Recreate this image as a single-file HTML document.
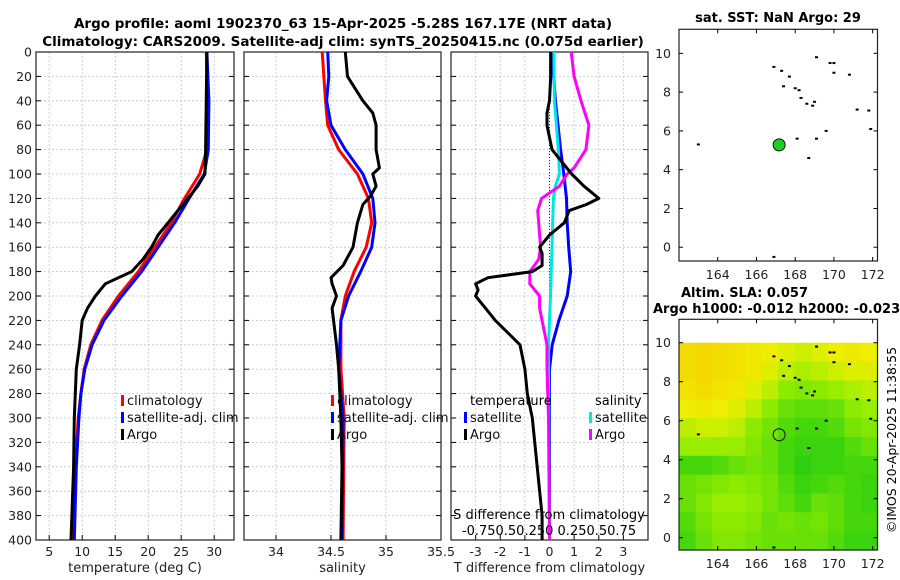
<!DOCTYPE html>
<html><head><meta charset="utf-8">
<style>
body{margin:0;background:#fff;}
svg{display:block;font-family:"DejaVu Sans","Liberation Sans",sans-serif;}
</style></head>
<body>
<svg id="chart" width="900" height="580" viewBox="0 0 900 580" xmlns="http://www.w3.org/2000/svg">
<text x="343" y="28" text-anchor="middle" font-weight="bold" font-size="13.5">Argo profile: aoml 1902370_63 15-Apr-2025 -5.28S 167.17E (NRT data)</text>
<text x="343" y="46" text-anchor="middle" font-weight="bold" font-size="13.5">Climatology: CARS2009. Satellite-adj clim: synTS_20250415.nc (0.075d earlier)</text>
<g id="g"></g>
<text x="778" y="22" text-anchor="middle" font-weight="bold" font-size="13">sat. SST: NaN Argo: 29</text>
<text x="681" y="297" font-weight="bold" font-size="13">Altim. SLA: 0.057</text>
<text x="653" y="313" font-weight="bold" font-size="13">Argo h1000: -0.012 h2000: -0.023</text>
<text transform="translate(896,440) rotate(-90)" text-anchor="middle" font-size="12.5">©IMOS 20-Apr-2025 11:38:55</text>
</svg>
<script>
const depthTicks=[0,20,40,60,80,100,120,140,160,180,200,220,240,260,280,300,320,340,360,380,400];
const tempTicks=[5,10,15,20,25,30];
const salTicks=[34,34.5,35,35.5];
const tdiffTicks=[-3,-2,-1,0,1,2,3];
const tempClim=[[0,28.8],[40,29],[80,28.9],[100,27.8],[120,25.5],[140,23.5],[160,21],[180,18.5],[200,15.5],[220,13],[240,11.3],[260,10.3],[280,9.8],[300,9.4],[340,9],[400,8.7]];
const tempSat=[[0,28.9],[40,29.2],[80,29.1],[100,28.5],[120,26.2],[140,24],[160,21.5],[180,19],[200,16],[220,13.3],[240,11.5],[260,10.4],[280,9.8],[300,9.5],[340,9.1],[400,8.8]];
const tempArgo=[[0,28.9],[80,28.7],[100,28.6],[110,27.5],[120,26],[130,24.5],[140,23],[150,21.5],[160,20.5],[170,19.2],[180,17.5],[185,15.5],[190,13.5],[200,12],[210,10.8],[220,10],[240,9.6],[260,9.1],[300,8.8],[340,8.7],[400,8.3]];
const salClim=[[0,34.42],[40,34.45],[60,34.47],[80,34.57],[100,34.74],[120,34.84],[140,34.87],[160,34.82],[180,34.71],[200,34.63],[220,34.59],[260,34.59],[300,34.62],[400,34.61]];
const salSat=[[0,34.47],[20,34.48],[40,34.46],[60,34.5],[80,34.63],[100,34.79],[120,34.88],[140,34.9],[160,34.87],[180,34.77],[200,34.66],[220,34.59],[260,34.57],[300,34.61],[400,34.6]];
const salArgo=[[0,34.63],[20,34.65],[40,34.79],[50,34.88],[60,34.91],[80,34.91],[95,34.94],[100,34.88],[110,34.91],[118,34.86],[125,34.79],[140,34.74],[160,34.7],[175,34.61],[185,34.5],[190,34.51],[200,34.55],[210,34.51],[240,34.55],[260,34.57],[300,34.59],[340,34.6],[400,34.59]];
const tdiffSat=[[0,0.1],[40,0.24],[80,0.45],[100,0.58],[120,0.69],[140,0.72],[160,0.78],[180,0.86],[200,0.72],[220,0.38],[240,0.11],[260,0],[400,0]];
const tdiffArgo=[[0,0.05],[20,0.05],[40,0],[50,-0.1],[60,-0.1],[80,0.1],[90,0.5],[100,0.9],[110,1.4],[120,2.0],[125,1.5],[130,0.8],[140,0.6],[150,0],[160,-0.4],[165,-0.3],[175,-0.3],[180,-0.7],[185,-2.5],[190,-3.0],[195,-2.9],[200,-3.0],[210,-2.6],[220,-2.2],[240,-1.2],[260,-1.0],[280,-0.9],[300,-0.7],[340,-0.5],[380,-0.3],[400,-0.3]];
const sdiffSat=[[0,0.045],[40,0.05],[80,0.09],[100,0.1],[110,0.06],[120,0.04],[160,0.025],[200,0.01],[240,-0.01],[400,0]];
const sdiffArgo=[[0,0.22],[20,0.25],[40,0.32],[60,0.4],[80,0.37],[95,0.25],[100,0.18],[110,0.1],[120,-0.08],[130,-0.12],[140,-0.11],[160,-0.09],[170,-0.11],[180,-0.2],[190,-0.2],[200,-0.1],[210,-0.1],[240,-0.025],[260,-0.025],[300,-0.01],[400,0]];
const lonTicks=[164,166,168,170,172];
const latTicks=[0,2,4,6,8,10];
const coastLon=[163,166.9,167.3,167.7,167.4,168,168.2,168.3,168.6,168.9,169,169.1,169.8,170,170,170.8,171.2,171.8,171.9,169.6,169.1,168.1,168.7,166.9];
const coastLat=[5.3,9.3,9.1,8.8,8.3,8.2,8.1,7.7,7.4,7.3,7.5,9.8,9.5,9.5,9,8.9,7.1,7.05,6.1,6,5.6,5.6,4.6,-0.5];
const argoLon=167.17, argoLat=5.28;
const slaGrid=[
[.9,.95,.9,.85,.8,.75,.7,.65,.7,.75,.8,.75],
[.9,.95,.9,.85,.8,.7,.6,.55,.6,.65,.7,.7],
[.85,.9,.85,.8,.7,.6,.45,.4,.45,.5,.55,.6],
[.75,.8,.75,.7,.6,.45,.3,.25,.25,.3,.45,.5],
[.6,.65,.65,.6,.45,.35,.2,.15,.15,.2,.35,.4],
[.5,.5,.5,.5,.4,.3,.15,.1,.1,.1,.2,.3],
[.15,.15,.2,.3,.35,.3,.15,.05,.1,.1,.15,.15],
[.3,.35,.4,.45,.4,.35,.2,.1,.15,.2,.15,.1],
[.3,.4,.5,.5,.45,.35,.25,.15,.3,.25,.15,.1],
[.2,.35,.45,.45,.4,.3,.35,.3,.35,.25,.15,.15],
[.15,.3,.4,.4,.35,.3,.3,.3,.3,.2,.1,.1]];

const NS="http://www.w3.org/2000/svg";
const G=document.getElementById('g');
function el(t,a,p){const e=document.createElementNS(NS,t);for(const k in a)e.setAttribute(k,a[k]);(p||G).appendChild(e);return e;}
const Y0=52,Y1=540;
const yD=d=>Y0+(d/400)*(Y1-Y0);
function panel(x0,x1,vmin,vmax,ticks,name,xlabel,showY){
  const sx=v=>x0+(v-vmin)/(vmax-vmin)*(x1-x0);
  const g=el('g',{});
  
  
  ticks.forEach(t=>{const x=sx(t);
    const l=el('line',{x1:x,x2:x,y1:Y0,y2:Y1,stroke:'#b8c4e8','stroke-width':0.8,'stroke-dasharray':'2,2'},g);
    
    el('line',{x1:x,x2:x,y1:Y1,y2:Y1-5,stroke:'#000'},g);
    const tx=el('text',{x:x,y:556,'text-anchor':'middle','font-size':12.5,fill:'#222'},g);tx.textContent=t;
    });
  depthTicks.forEach(d=>{const y=yD(d);
    const l=el('line',{x1:x0,x2:x1,y1:y,y2:y,stroke:'#b8c4e8','stroke-width':0.8,'stroke-dasharray':'2,2'},g);
    
    el('line',{x1:x0,x2:x0+5,y1:y,y2:y,stroke:'#000'},g);
    el('line',{x1:x1,x2:x1-5,y1:y,y2:y,stroke:'#000'},g);
    if(showY){const tx=el('text',{x:x0-4,y:y+4.5,'text-anchor':'end','font-size':12.5,fill:'#222'},g);tx.textContent=d;
      }});
  const r=el('rect',{x:x0,y:Y0,width:x1-x0,height:Y1-Y0,fill:'none',stroke:'#222','stroke-width':1.2},g);
  
  const xl=el('text',{x:(x0+x1)/2,y:572,'text-anchor':'middle','font-size':13,fill:'#222'},g);xl.textContent=xlabel;
  
  return {sx,g};
}
function line(p,data,color,name,scale){
  const s=scale||1;
  const pts=data.map(([d,v])=>p.sx(v*s).toFixed(1)+','+yD(d).toFixed(1)).join(' ');
  const l=el('polyline',{points:pts,fill:'none',stroke:color,'stroke-width':3,'stroke-linejoin':'round'},p.g);
  
}
function legendItem(g,x,y,color,label,name){
  el('rect',{x:x,y:y-10,width:3,height:11,fill:color},g);
  const t=el('text',{x:x+6,y:y,'font-size':13,fill:'#111'},g);t.textContent=label;
  
}
const p1=panel(36,234,3,33,tempTicks,'temperature-panel','temperature (deg C)',true);
line(p1,tempClim,'#ff0000','temp-climatology-line');
line(p1,tempSat,'#0000ff','temp-satellite-line');
line(p1,tempArgo,'#000000','temp-argo-line');
legendItem(p1.g,121,405,'#ff0000','climatology','legend-climatology');
legendItem(p1.g,121,422,'#0000ff','satellite-adj. clim','legend-satellite');
legendItem(p1.g,121,439,'#000000','Argo','legend-argo');
const p2=panel(244,441,33.709,35.5,salTicks,'salinity-panel','salinity',false);
line(p2,salClim,'#ff0000','sal-climatology-line');
line(p2,salSat,'#0000ff','sal-satellite-line');
line(p2,salArgo,'#000000','sal-argo-line');
legendItem(p2.g,331,405,'#ff0000','climatology','legend-climatology');
legendItem(p2.g,331,422,'#0000ff','satellite-adj. clim','legend-satellite');
legendItem(p2.g,331,439,'#000000','Argo','legend-argo');
const p3=panel(451,648,-4,4,tdiffTicks,'difference-panel','T difference from climatology',false);
{const z=el('line',{x1:p3.sx(0),x2:p3.sx(0),y1:Y0,y2:Y1,stroke:'#333','stroke-width':1,'stroke-dasharray':'1,2'},p3.g);
}
line(p3,tdiffSat,'#0000ff','tdiff-satellite-line');
line(p3,sdiffSat,'#00e5e5','sdiff-satellite-line',4);
line(p3,sdiffArgo,'#ff00ff','sdiff-argo-line',4);
line(p3,tdiffArgo,'#000000','tdiff-argo-line');
{const t=el('text',{x:470,y:405,'font-size':13},p3.g);t.textContent='temperature';
const t2=el('text',{x:595,y:405,'font-size':13},p3.g);t2.textContent='salinity';}
legendItem(p3.g,464,422,'#0000ff','satellite','legend-t-satellite');
legendItem(p3.g,464,439,'#000000','Argo','legend-t-argo');
legendItem(p3.g,589,422,'#00e5e5','satellite','legend-s-satellite');
legendItem(p3.g,589,439,'#ff00ff','Argo','legend-s-argo');
{const t=el('text',{x:549,y:519,'text-anchor':'middle','font-size':13},p3.g);t.textContent='S difference from climatology';
const t2=el('text',{x:549,y:535,'text-anchor':'middle','font-size':13},p3.g);t2.textContent='-0.750.50.250 0.250.50.75';}

const MX0=679,MX1=877.5,LON0=162.0,LON1=172.25;
const mx=lon=>MX0+(lon-LON0)/(LON1-LON0)*(MX1-MX0);
function slaColor(v){
  const stops=[[0,[34,204,17]],[0.5,[153,238,0]],[0.75,[238,238,0]],[1,[245,208,0]]];
  for(let i=0;i<stops.length-1;i++){const [a,ca]=stops[i],[b,cb]=stops[i+1];
    if(v<=b){const f=(v-a)/(b-a);return 'rgb('+ca.map((c,k)=>Math.round(c+(cb[k]-c)*f)).join(',')+')';}}
  return 'rgb(245,208,0)';
}
function map(y0,y1,latTop,latBot,name,colored){
  const my=lat=>y0+(latTop-lat)/(latTop-latBot)*(y1-y0);
  const g=el('g',{});
  
  
  if(colored){
    const rows=slaGrid.length,cols=slaGrid[0].length;
    const top=my(10),bot=y1;const ch=(bot-top)/rows,cw=(MX1-MX0)/cols;
    slaGrid.forEach((row,i)=>row.forEach((v,j)=>{
      const c=el('rect',{x:MX0+j*cw,y:top+i*ch,width:cw+0.6,height:ch+0.6,fill:slaColor(v)},g);
      }));
  }
  coastLon.forEach((lo,i)=>{const d=el('rect',{x:mx(lo)-1.5,y:my(coastLat[i])-1,width:3,height:2,fill:'#000'},g);
    });
  const c=el('circle',{cx:mx(argoLon),cy:my(argoLat),r:6,fill:colored?'none':'#22cc22',stroke:'#111','stroke-width':1},g);
  
  const fr=el('rect',{x:MX0,y:y0,width:MX1-MX0,height:y1-y0,fill:'none',stroke:'#222','stroke-width':1.2},g);
  
  lonTicks.forEach(lo=>{const x=mx(lo);el('line',{x1:x,x2:x,y1:y1,y2:y1-4,stroke:'#000'},g);el('line',{x1:x,x2:x,y1:y0,y2:y0+4,stroke:'#000'},g);
    const t=el('text',{x:x,y:y1+18,'text-anchor':'middle','font-size':12.5,fill:'#222'},g);t.textContent=lo;
    });
  latTicks.forEach(la=>{const y=my(la);el('line',{x1:MX0,x2:MX0+4,y1:y,y2:y,stroke:'#000'},g);el('line',{x1:MX1,x2:MX1-4,y1:y,y2:y,stroke:'#000'},g);
    const t=el('text',{x:MX0-8,y:y+4.5,'text-anchor':'end','font-size':12.5,fill:'#222'},g);t.textContent=la;
    });
}
map(29.3,261,11.24,-0.71,'sst-map',false);
map(319.3,550,11.2,-0.63,'sla-map',true);
</script>
</body></html>
